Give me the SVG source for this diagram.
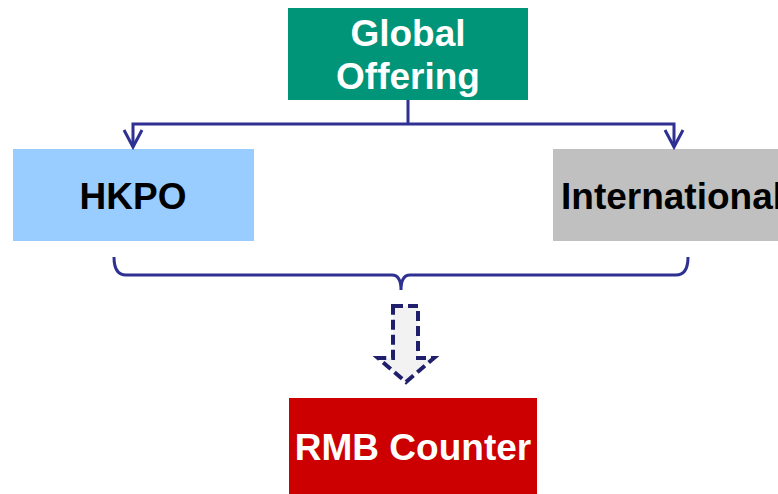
<svg xmlns="http://www.w3.org/2000/svg" width="778" height="494" viewBox="0 0 778 494">
  <style>
    .lbl { font-family: "Liberation Sans", Arial, sans-serif; font-weight: bold; font-size: 37px; }
    .w { fill: #ffffff; }
    .k { fill: #000000; }
    .wire { fill: none; stroke: #2e3192; stroke-width: 3; }
  </style>
  <rect width="778" height="494" fill="#ffffff"/>

  <g id="global-offering">
    <rect x="288" y="8" width="240" height="92" fill="#009478"/>
    <text class="lbl w" x="408" y="46" text-anchor="middle">Global</text>
    <text class="lbl w" x="408" y="89" text-anchor="middle">Offering</text>
  </g>

  <g id="hkpo">
    <rect x="13" y="149" width="241" height="92" fill="#99ccff"/>
    <text class="lbl k" x="133" y="209" text-anchor="middle">HKPO</text>
  </g>

  <g id="international">
    <rect x="553" y="149" width="240" height="92" fill="#c0c0c0"/>
    <text class="lbl k" x="561" y="209">International</text>
  </g>

  <g id="rmb-counter">
    <rect x="289" y="398" width="248" height="96" fill="#cc0000"/>
    <text class="lbl w" x="413" y="460" text-anchor="middle">RMB Counter</text>
  </g>

  <g id="connectors">
    <!-- split from Global Offering to both tranches -->
    <path class="wire" d="M408 100 V124 M133 147 V124 H674 V147"/>
    <path class="wire" d="M124 130 L133 147 L142 130 M665 130 L674 147 L683 130"/>
    <!-- brace gathering both tranches -->
    <path class="wire" d="M114 257 Q114 275 126 275 H392 Q401 275 401 290 Q401 275 410 275 H676 Q688 275 688 257" stroke-width="2.5"/>
    <!-- dashed block arrow down to RMB Counter -->
    <path d="M393 306 H418 V358 H434 L406 382 L378 358 H393 Z" fill="#f2f2f2" stroke="#1f1f6b" stroke-width="4" stroke-dasharray="10 5"/>
  </g>
</svg>
